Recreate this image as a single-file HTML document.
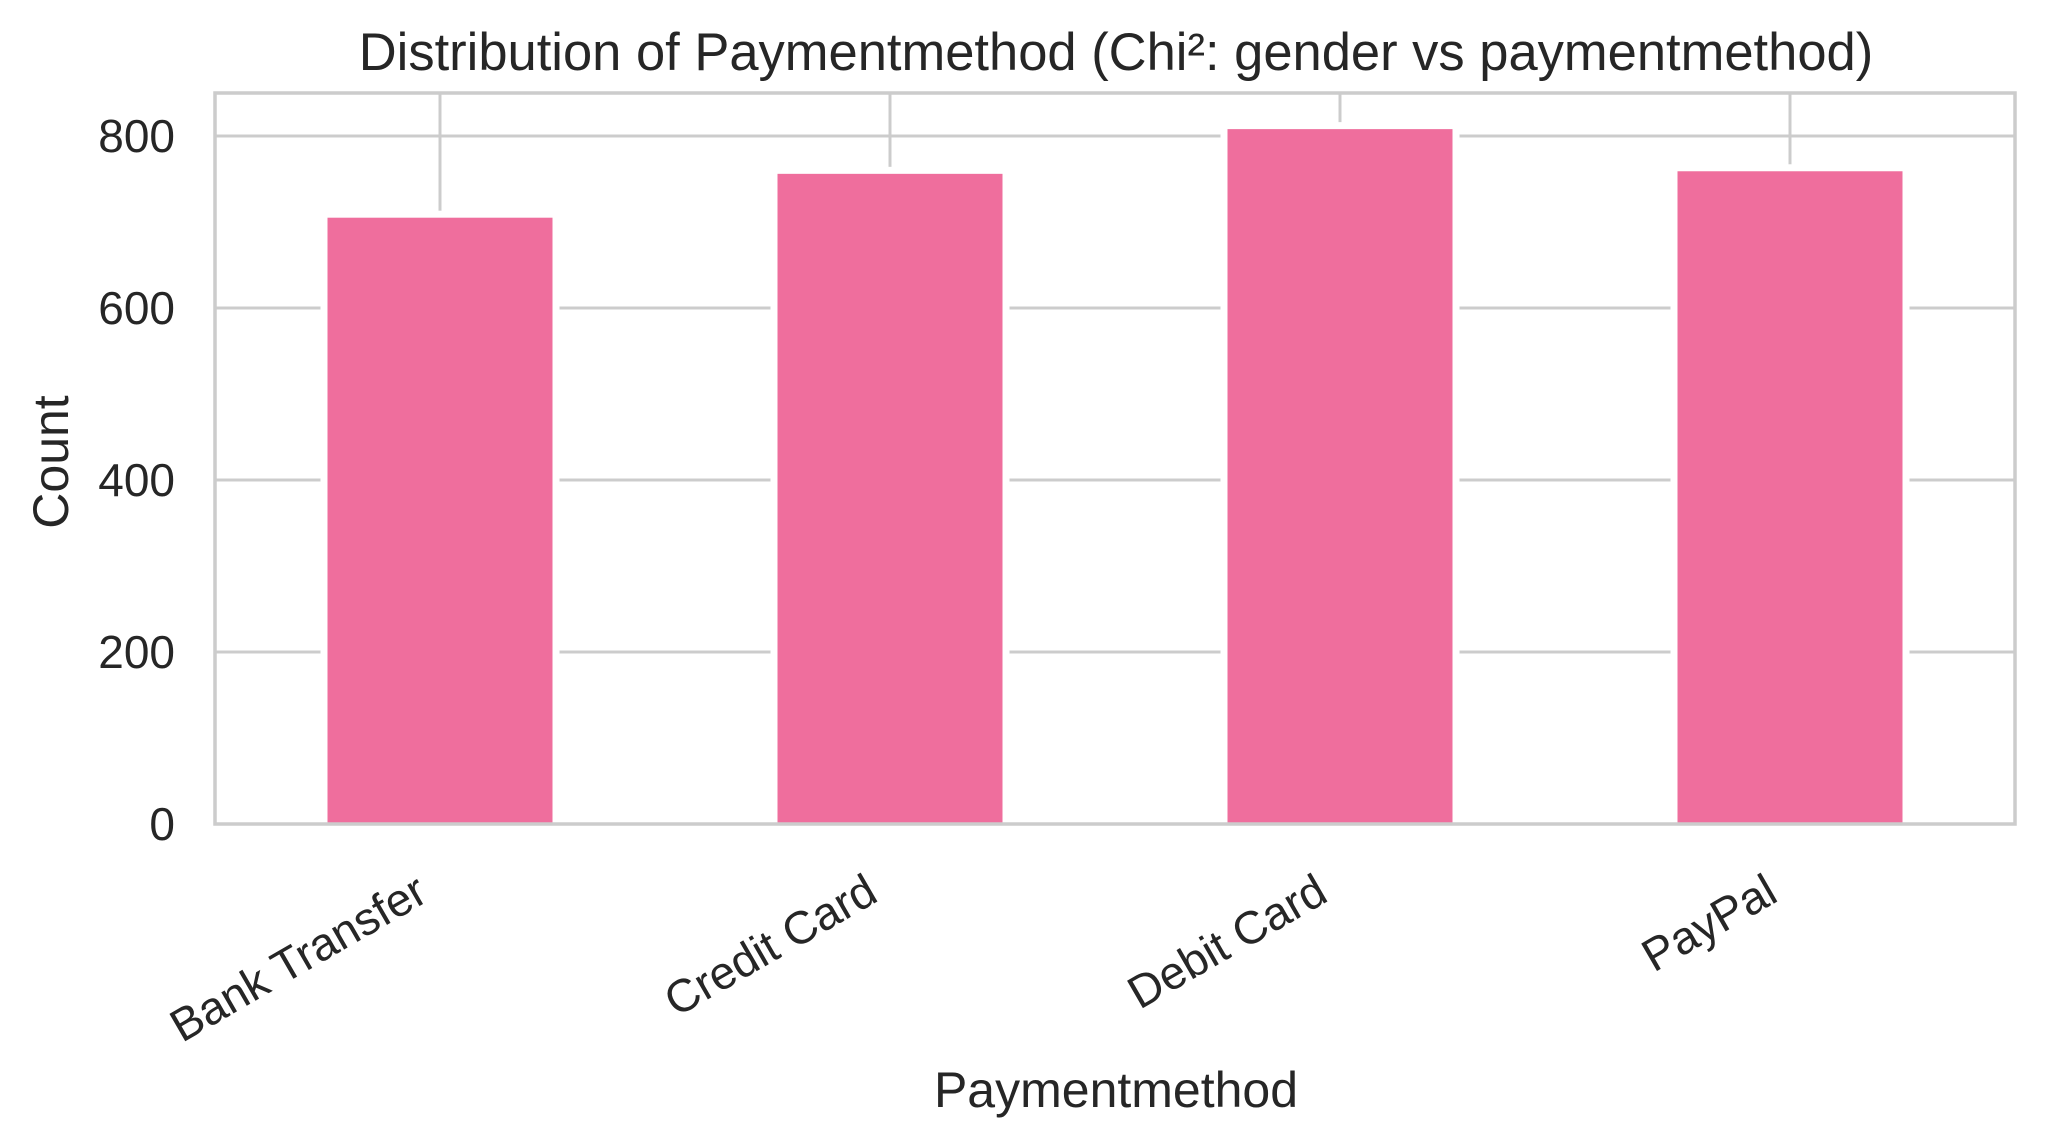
<!DOCTYPE html>
<html><head><meta charset="utf-8"><style>
html,body{margin:0;padding:0;background:#fff;}
svg{display:block;font-family:"Liberation Sans",sans-serif;}
</style></head><body>
<svg id="chart" width="2047" height="1145" viewBox="0 0 2047 1145" xmlns="http://www.w3.org/2000/svg">
<rect x="0" y="0" width="2047" height="1145" fill="#fff"/>
<g id="grid"></g>
<g id="bars"></g>
<rect x="215" y="93" width="1800" height="731" fill="none" stroke="#cccccc" stroke-width="3.5"/>
<g id="yticks"></g>
<g id="xticks"></g>
<text x="1116" y="70" text-anchor="middle" font-size="52.5" fill="#262626">Distribution of Paymentmethod (Chi²: gender vs paymentmethod)</text>
<text x="1116" y="1107" text-anchor="middle" font-size="50" fill="#262626">Paymentmethod</text>
<text transform="translate(68,462) rotate(-90)" text-anchor="middle" font-size="50" fill="#262626">Count</text>
</svg>
<script>
const categories = ["Bank Transfer", "Credit Card", "Debit Card", "PayPal"];
const counts = [705, 756, 808, 759];
const yTicks = [0, 200, 400, 600, 800];

const NS = "http://www.w3.org/2000/svg";
const plotL = 215, plotR = 2015, plotT = 93, plotB = 824;
const yMax = 850;
const band = (plotR - plotL) / categories.length;
function xCenter(i) { return plotL + band * (i + 0.5); }
function yPos(v) { return plotB - (v / yMax) * (plotB - plotT); }

const grid = document.getElementById('grid');
const bars = document.getElementById('bars');
const yt = document.getElementById('yticks');
const xt = document.getElementById('xticks');

yTicks.forEach(t => {
  const y = yPos(t);
  const ln = document.createElementNS(NS, 'line');
  ln.setAttribute('x1', plotL); ln.setAttribute('x2', plotR);
  ln.setAttribute('y1', y); ln.setAttribute('y2', y);
  ln.setAttribute('stroke', '#cccccc'); ln.setAttribute('stroke-width', '3');
  
  
  grid.appendChild(ln);
  const tx = document.createElementNS(NS, 'text');
  tx.setAttribute('x', 175); tx.setAttribute('y', y + 16);
  tx.setAttribute('text-anchor', 'end'); tx.setAttribute('font-size', '46');
  tx.setAttribute('fill', '#262626');
  tx.textContent = t;
  
  
  yt.appendChild(tx);
});

categories.forEach((c, i) => {
  const cx = xCenter(i);
  const ln = document.createElementNS(NS, 'line');
  ln.setAttribute('x1', cx); ln.setAttribute('x2', cx);
  ln.setAttribute('y1', plotT); ln.setAttribute('y2', plotB);
  ln.setAttribute('stroke', '#cccccc'); ln.setAttribute('stroke-width', '3');
  
  
  grid.appendChild(ln);

  const w = band * 0.5;
  const top = yPos(counts[i]);
  const r = document.createElementNS(NS, 'rect');
  r.setAttribute('x', cx - w / 2); r.setAttribute('y', top);
  r.setAttribute('width', w); r.setAttribute('height', plotB - top);
  r.setAttribute('fill', '#ef6e9d');
  r.setAttribute('stroke', '#ffffff'); r.setAttribute('stroke-width', '14');
  r.setAttribute('paint-order', 'stroke');
  
  
  bars.appendChild(r);

  const tx = document.createElementNS(NS, 'text');
  tx.setAttribute('transform', 'translate(' + (cx - 10) + ',900) rotate(-30)');
  tx.setAttribute('text-anchor', 'end'); tx.setAttribute('font-size', '46');
  tx.setAttribute('fill', '#262626');
  tx.textContent = c;
  
  
  xt.appendChild(tx);
});
</script>
</body></html>
